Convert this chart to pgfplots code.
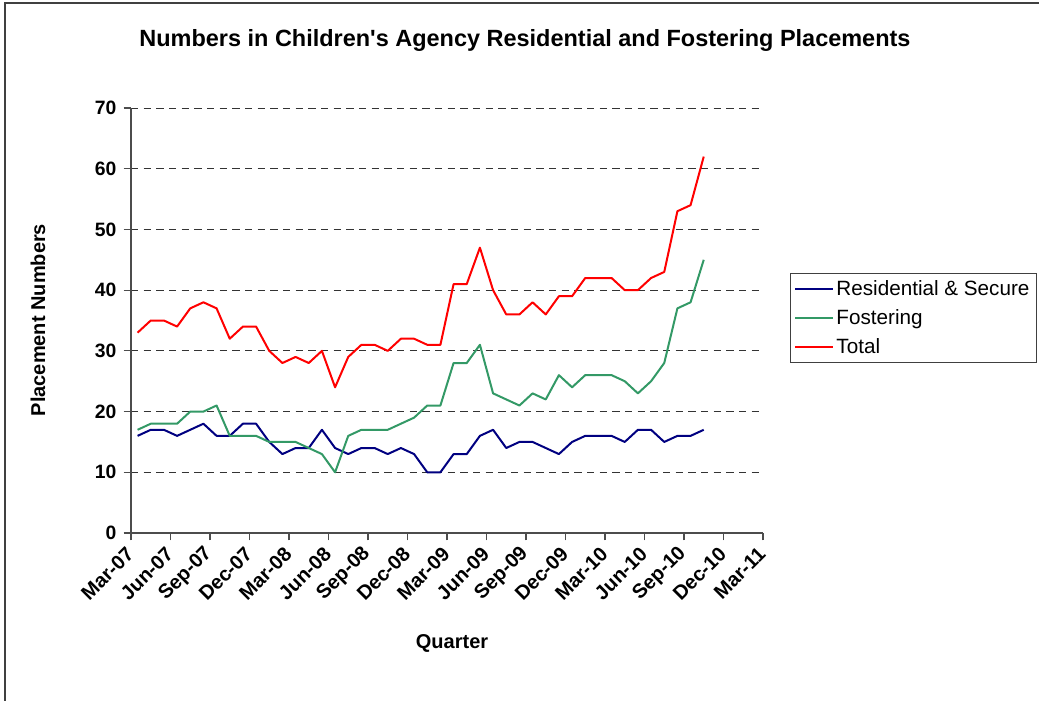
\documentclass[border=0pt]{standalone}
\usepackage{fontspec}
\setmainfont{Liberation Sans}
\usepackage{pgfplots}
\usepackage{pgfplotstable}
\pgfplotsset{compat=1.18}
\definecolor{resblue}{HTML}{000080}
\definecolor{fosgreen}{HTML}{339966}
\definecolor{totred}{HTML}{FF0000}

\pgfplotstableread{
x res fos tot
0.5 16 17 33
1.5 17 18 35
2.5 17 18 35
3.5 16 18 34
4.5 17 20 37
5.5 18 20 38
6.5 16 21 37
7.5 16 16 32
8.5 18 16 34
9.5 18 16 34
10.5 15 15 30
11.5 13 15 28
12.5 14 15 29
13.5 14 14 28
14.5 17 13 30
15.5 14 10 24
16.5 13 16 29
17.5 14 17 31
18.5 14 17 31
19.5 13 17 30
20.5 14 18 32
21.5 13 19 32
22.5 10 21 31
23.5 10 21 31
24.5 13 28 41
25.5 13 28 41
26.5 16 31 47
27.5 17 23 40
28.5 14 22 36
29.5 15 21 36
30.5 15 23 38
31.5 14 22 36
32.5 13 26 39
33.5 15 24 39
34.5 16 26 42
35.5 16 26 42
36.5 16 26 42
37.5 15 25 40
38.5 17 23 40
39.5 17 25 42
40.5 15 28 43
41.5 16 37 53
42.5 16 38 54
43.5 17 45 62
}\datatable

\begin{document}
\begin{tikzpicture}
\path[use as bounding box] (0pt,0pt) rectangle (779.25pt,-525pt);
\draw[black!75, line width=1.1pt] (3.75pt,-530pt) -- (3.75pt,-2.25pt) -- (785pt,-2.25pt);
\begin{axis}[
  at={(98.25pt,-399.75pt)}, anchor=south west,
  scale only axis, width=474pt, height=318.75pt,
  xmin=0, xmax=48, ymin=0, ymax=70,
  axis lines*=left,
  axis line style={black!70, line width=0.8pt},
  xtick={0,3,...,48},
  xticklabels={Mar-07,Jun-07,Sep-07,Dec-07,Mar-08,Jun-08,Sep-08,Dec-08,Mar-09,Jun-09,Sep-09,Dec-09,Mar-10,Jun-10,Sep-10,Dec-10,Mar-11},
  ytick={0,10,...,70},
  tick align=outside,
  major tick length=5.5pt,
  tick style={black!70, line width=0.8pt},
  ymajorgrids,
  major grid style={black!80, line width=0.75pt, dash pattern=on 5.5pt off 4pt},
  tick label style={font=\fontsize{14.5}{16}\selectfont\bfseries},
  xticklabel style={font=\fontsize{15}{17}\selectfont\bfseries, rotate=45, anchor=east, xshift=-2.5pt, yshift=-5pt},
  yticklabel style={xshift=-2pt},
  /pgf/number format/assume math mode=true,
  title={Numbers in Children\textquotesingle s Agency Residential and Fostering Placements},
  title style={at={(0.6234,1.141)}, anchor=center, font=\fontsize{17.6}{20}\selectfont\bfseries},
  xlabel={Quarter},
  xlabel style={at={(0.508,-0.261)}, anchor=center, font=\fontsize{15}{17}\selectfont\bfseries},
  ylabel={Placement Numbers},
  ylabel style={at={(-0.147,0.501)}, anchor=center, rotate=0, font=\fontsize{15}{17}\selectfont\bfseries},
  legend style={at={(1.0427,0.6118)}, anchor=north west, draw=black!75, line width=0.75pt,
    font=\fontsize{15.5}{18}\selectfont, row sep=5.3pt, inner xsep=3pt, inner ysep=3pt,
    cells={anchor=west}},
  legend image code/.code={\draw[#1] (0pt,0pt) -- (28pt,0pt);},
  every axis plot/.append style={line width=1.5pt, line join=round},
]
\addplot[resblue] table[x=x, y=res] {\datatable};
\addlegendentry{Residential \& Secure}
\addplot[fosgreen] table[x=x, y=fos] {\datatable};
\addlegendentry{Fostering}
\addplot[totred] table[x=x, y=tot] {\datatable};
\addlegendentry{Total}
\end{axis}
\end{tikzpicture}
\end{document}
